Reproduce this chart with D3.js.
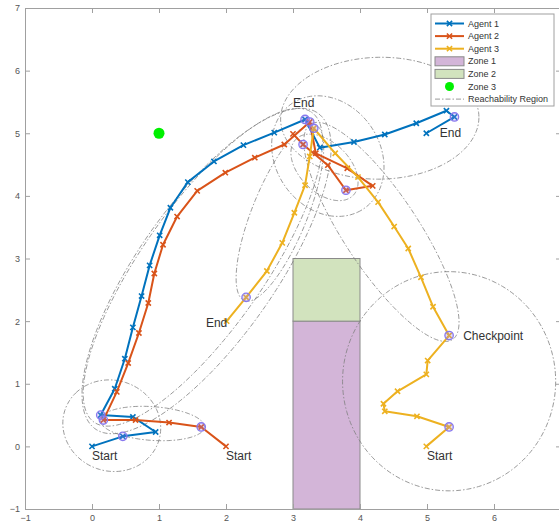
<!DOCTYPE html>
<html><head><meta charset="utf-8">
<script src="https://cdn.jsdelivr.net/npm/d3@7"></script>
<style>body{margin:0;background:#fff;} svg{display:block;font-family:"Liberation Sans",Arial,sans-serif;}</style>
</head><body>
<svg id="chart" width="559" height="527"></svg>
<script>
// ---------- data ----------
const tickValues = [-1, 0, 1, 2, 3, 4, 5, 6, 7];

const agent1 = [[0,0],[0.46,0.16],[0.95,0.23],[0.61,0.47],[0.13,0.50],[0.34,0.92],[0.49,1.40],[0.61,1.90],[0.74,2.40],[0.86,2.89],[1.01,3.37],[1.17,3.81],[1.43,4.22],[1.82,4.55],[2.26,4.81],[2.72,5.01],[3.18,5.22],[3.40,4.77],[3.91,4.86],[4.37,4.98],[4.84,5.16],[5.29,5.36],[5.41,5.26],[4.99,5.00]];
const agent2 = [[2.0,0],[1.63,0.31],[1.15,0.38],[0.65,0.42],[0.17,0.42],[0.37,0.87],[0.54,1.33],[0.70,1.81],[0.84,2.29],[0.93,2.76],[1.06,3.22],[1.27,3.67],[1.57,4.08],[1.99,4.37],[2.43,4.61],[2.87,4.82],[3.25,5.18],[3.34,4.68],[3.81,4.44],[4.19,4.16],[3.79,4.09],[3.52,4.49],[3.15,4.82],[3.00,4.99]];
const agent3 = [[4.99,0],[5.33,0.31],[4.85,0.48],[4.37,0.56],[4.35,0.68],[4.56,0.88],[4.99,1.15],[5.01,1.37],[5.33,1.77],[5.09,2.23],[4.91,2.70],[4.72,3.16],[4.51,3.51],[4.27,3.90],[3.97,4.30],[3.63,4.68],[3.31,5.08],[3.25,4.63],[3.18,4.17],[3.02,3.73],[2.84,3.25],[2.61,2.80],[2.30,2.38],[2.01,2.00]];

const agent1Waypoints = [[0.46,0.16],[0.13,0.50],[3.18,5.22],[5.41,5.26]];
const agent2Waypoints = [[1.63,0.31],[0.17,0.42],[3.25,5.18],[3.79,4.09],[3.15,4.82]];
const agent3Waypoints = [[5.33,0.31],[5.33,1.77],[3.31,5.08],[2.30,2.38]];

// reachability regions: focus1 x,y, focus2 x,y, semi-major axis
const reachRegions = [
  [0.46,0.16, 0.13,0.50, 0.75],
  [0.13,0.50, 3.18,5.22, 2.96],
  [3.18,5.22, 5.41,5.26, 1.48],
  [1.63,0.31, 0.17,0.42, 0.78],
  [0.17,0.42, 3.25,5.18, 3.02],
  [3.25,5.18, 3.79,4.09, 1.00],
  [3.79,4.09, 3.15,4.82, 0.62],
  [5.33,0.31, 5.33,1.77, 1.75],
  [5.33,1.77, 3.31,5.08, 2.02],
  [3.31,5.08, 2.30,2.38, 1.50]
];

// zones: x0, x1, y0, y1
const zone1 = [3, 4, -1, 2];
const zone2 = [3, 4, 2, 3];
const zone3 = [1, 5];

const labelText = ["Start","Start","Start","End","End","End","Checkpoint"];
const labelX = [0.0, 2.0, 5.0, 3.0, 5.19, 1.70, 5.54];
const labelY = [-0.15, -0.15, -0.15, 5.48, 5.0, 1.98, 1.76];

const legendNames = ["Agent 1","Agent 2","Agent 3","Zone 1","Zone 2","Zone 3","Reachability Region"];

// ---------- styles ----------
const agentColors = ["#0072BD", "#D95319", "#EDB120"];
const zone1Fill = "#D3B5D8", zone2Fill = "#D2E3BE", zone3Fill = "#00F000";
const waypointStroke = "#8878EE";
const reachColor = "#808080";
const reachDash = "5,2,1.5,2";

// ---------- chart ----------
const svg = d3.select("#chart");
const x = d3.scaleLinear().domain([-1, 7]).range([25, 561]);
const y = d3.scaleLinear().domain([-1, 7]).range([509, 8]);

// zones
[[zone1, zone1Fill], [zone2, zone2Fill]].forEach(([z, f]) => {
  svg.append("rect")
    .attr("x", x(z[0])).attr("y", y(z[3]))
    .attr("width", x(z[1]) - x(z[0])).attr("height", y(z[2]) - y(z[3]))
    .attr("fill", f).attr("stroke", "#8a8a8a").attr("stroke-width", 1);
});

// axes
const axisColor = "#a0a0a0", labelColor = "#555";
function styleAxis(g) {
  g.select(".domain").attr("stroke", axisColor);
  g.selectAll(".tick line").attr("stroke", axisColor);
  g.selectAll(".tick text").attr("fill", labelColor).attr("font-size", 9)
    .attr("font-family", "Liberation Sans, Arial, sans-serif");
}
svg.append("g").attr("transform", `translate(0,${y(-1)})`)
  .call(d3.axisBottom(x).tickValues(tickValues).tickSizeInner(-5).tickSizeOuter(0).tickPadding(6).tickFormat(d3.format("d")))
  .call(styleAxis);
svg.append("g").attr("transform", `translate(${x(-1)},0)`)
  .call(d3.axisLeft(y).tickValues(tickValues).tickSizeInner(-5).tickSizeOuter(0).tickPadding(5).tickFormat(d3.format("d")))
  .call(styleAxis);
svg.append("g").attr("transform", `translate(0,${y(7)})`)
  .call(d3.axisTop(x).tickValues(tickValues).tickSizeInner(-5).tickSizeOuter(0).tickFormat(""))
  .call(styleAxis);
svg.append("g").attr("transform", `translate(${x(7)},0)`)
  .call(d3.axisRight(y).tickValues(tickValues).tickSizeInner(-5).tickSizeOuter(0).tickFormat(""))
  .call(styleAxis);

// reachability ellipses
const angles = d3.range(0, 361, 2).map(d => d * Math.PI / 180);
const ell = d3.line().x(d => x(d[0])).y(d => y(d[1]));
reachRegions.forEach(r => {
  const [x1, y1, x2, y2, a] = r;
  const mx = (x1 + x2) / 2, my = (y1 + y2) / 2;
  const c = Math.hypot(x2 - x1, y2 - y1) / 2;
  const b = Math.sqrt(Math.max(a * a - c * c, 0.0001));
  const th = Math.atan2(y2 - y1, x2 - x1);
  const pts = angles.map(t => [
    mx + a * Math.cos(t) * Math.cos(th) - b * Math.sin(t) * Math.sin(th),
    my + a * Math.cos(t) * Math.sin(th) + b * Math.sin(t) * Math.cos(th)
  ]);
  svg.append("path").attr("d", ell(pts)).attr("fill", "none")
    .attr("stroke", reachColor).attr("stroke-width", 0.8).attr("stroke-dasharray", reachDash);
});

// zone 3
svg.append("circle").attr("cx", x(zone3[0])).attr("cy", y(zone3[1])).attr("r", 5.5).attr("fill", zone3Fill);

// agents
const line = d3.line().x(d => x(d[0])).y(d => y(d[1]));
const agents = [agent1, agent2, agent3];
const waypoints = [agent1Waypoints, agent2Waypoints, agent3Waypoints];
function xMarker(g, cx, cy, col, s) {
  g.append("path").attr("d", `M${cx - s},${cy - s}L${cx + s},${cy + s}M${cx - s},${cy + s}L${cx + s},${cy - s}`)
    .attr("stroke", col).attr("stroke-width", 1.6).attr("fill", "none");
}
agents.forEach((pts, i) => {
  const g = svg.append("g");
  g.append("path").attr("d", line(pts)).attr("fill", "none")
    .attr("stroke", agentColors[i]).attr("stroke-width", 2).attr("stroke-linejoin", "round");
  pts.forEach(p => xMarker(g, x(p[0]), y(p[1]), agentColors[i], 2.6));
});
waypoints.forEach((wps, i) => {
  svg.selectAll(null).data(wps).enter().append("circle")
    .attr("cx", d => x(d[0])).attr("cy", d => y(d[1])).attr("r", 4.2)
    .attr("fill", "rgba(150,130,240,0.25)").attr("stroke", waypointStroke).attr("stroke-width", 1.3);
});

// labels
svg.selectAll(null).data(labelText).enter().append("text")
  .attr("x", (d, i) => x(labelX[i])).attr("y", (d, i) => y(labelY[i]))
  .attr("dy", "0.35em").attr("font-size", 12).attr("fill", "#333").text(d => d);

// legend
const lg = svg.append("g");
const lx = 431, ly = 14, rowH = 12.6;
lg.append("rect").attr("x", lx).attr("y", ly).attr("width", 123).attr("height", 92)
  .attr("fill", "#fff").attr("stroke", "#a0a0a0").attr("stroke-width", 1);
legendNames.forEach((name, i) => {
  const cy = ly + 9.5 + i * rowH;
  const ix0 = lx + 4, ix1 = lx + 33, icx = (ix0 + ix1) / 2;
  if (i < 3) {
    lg.append("line").attr("x1", ix0).attr("x2", ix1).attr("y1", cy).attr("y2", cy)
      .attr("stroke", agentColors[i]).attr("stroke-width", 2);
    xMarker(lg, icx, cy, agentColors[i], 2.6);
  } else if (i < 5) {
    lg.append("rect").attr("x", ix0).attr("y", cy - 4.5).attr("width", ix1 - ix0).attr("height", 9)
      .attr("fill", i === 3 ? zone1Fill : zone2Fill).attr("stroke", "#8a8a8a").attr("stroke-width", 1);
  } else if (i === 5) {
    lg.append("circle").attr("cx", icx).attr("cy", cy).attr("r", 4.5).attr("fill", zone3Fill);
  } else {
    lg.append("line").attr("x1", ix0).attr("x2", ix1).attr("y1", cy).attr("y2", cy)
      .attr("stroke", reachColor).attr("stroke-width", 0.8).attr("stroke-dasharray", reachDash);
  }
  lg.append("text").attr("x", lx + 37).attr("y", cy).attr("dy", "0.35em")
    .attr("font-size", 9).attr("fill", "#333").text(name);
});
</script>
</body></html>
